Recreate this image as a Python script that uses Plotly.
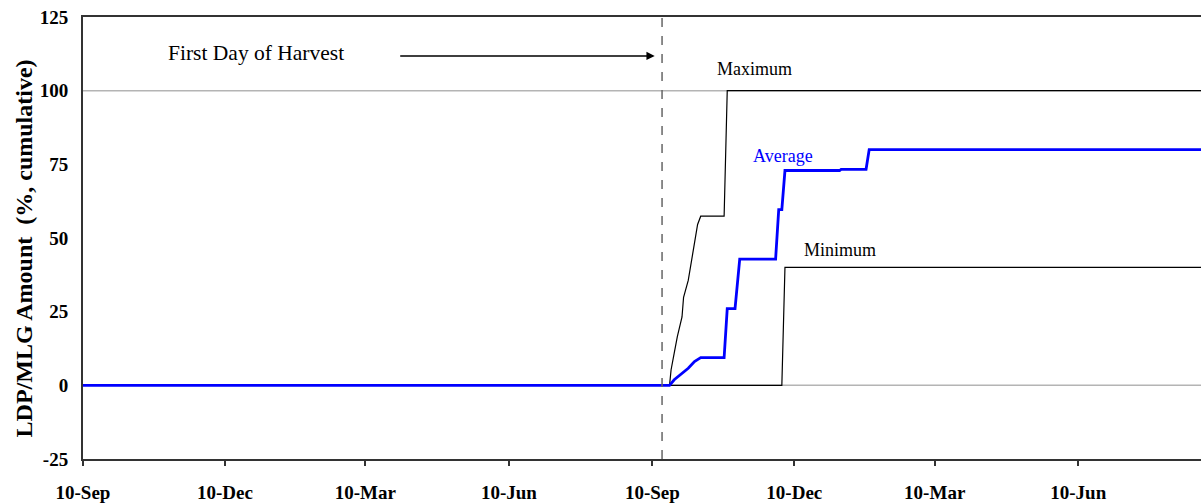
import plotly.graph_objects as go

# ---- data ----
avg_dates = ["2001-09-10", "2002-09-21", "2002-09-24", "2002-09-29", "2002-10-03", "2002-10-07",
             "2002-10-11", "2002-10-26", "2002-10-28", "2002-11-02", "2002-11-05", "2002-11-28",
             "2002-11-30", "2002-12-02", "2002-12-04", "2003-01-08", "2003-01-09", "2003-01-25",
             "2003-01-27", "2003-09-10"]
avg_vals = [0, 0, 1.9, 4.1, 5.8, 8.1, 9.4, 9.4, 26, 26, 42.8, 42.8, 59.6, 59.6, 72.9, 72.9, 73.3, 73.3, 80, 80]

max_dates = ["2002-09-21", "2002-09-22", "2002-09-24", "2002-09-26", "2002-09-29", "2002-09-30",
             "2002-10-03", "2002-10-05", "2002-10-07", "2002-10-09", "2002-10-11", "2002-10-26",
             "2002-10-28", "2003-09-10"]
max_vals = [0, 5.3, 10.9, 16.5, 23.2, 29.9, 35.6, 42.3, 49.0, 54.6, 57.4, 57.4, 100, 100]

min_dates = ["2002-09-21", "2002-12-02", "2002-12-04", "2003-09-10"]
min_vals = [0, 0, 40, 40]

tick_dates = ["2001-09-10", "2001-12-10", "2002-03-10", "2002-06-10",
              "2002-09-10", "2002-12-10", "2003-03-10", "2003-06-10"]
tick_labels = ["10-Sep", "10-Dec", "10-Mar", "10-Jun", "10-Sep", "10-Dec", "10-Mar", "10-Jun"]
y_ticks = [-25, 0, 25, 50, 75, 100, 125]
y_tick_labels = ["-25", "0", "25", "50", "75", "100", "125"]

harvest_date = "2002-09-16 05:00"

SERIF = "Liberation Serif, Times New Roman, serif"

fig = go.Figure()
fig.add_trace(go.Scatter(x=min_dates, y=min_vals, mode="lines",
                         line=dict(color="#000000", width=1.2), name="Minimum"))
fig.add_trace(go.Scatter(x=max_dates, y=max_vals, mode="lines",
                         line=dict(color="#000000", width=1.2), name="Maximum"))
fig.add_trace(go.Scatter(x=avg_dates, y=avg_vals, mode="lines",
                         line=dict(color="#0000FF", width=2.8), name="Average"))

# reference lines at 0 and 100
for yv in (0, 100):
    fig.add_shape(type="line", xref="paper", x0=0, x1=1, yref="y", y0=yv, y1=yv,
                  line=dict(color="#b4b4b4", width=1.5), layer="below")

# harvest dashed line
fig.add_shape(type="line", xref="x", x0=harvest_date, x1=harvest_date, yref="paper", y0=0, y1=1,
              line=dict(color="#666666", width=1.5, dash="dash"))

# arrow
fig.add_annotation(x="2002-09-11 12:00", y=111.8, xref="x", yref="y", ax=-256, ay=0,
                   showarrow=True, arrowhead=2, arrowsize=1.1, arrowwidth=1.5,
                   arrowcolor="#000000", text="")

fig.add_annotation(text="First Day of Harvest", xref="paper", yref="paper", x=0.155, y=0.919,
                   showarrow=False, xanchor="center", yanchor="middle",
                   font=dict(family=SERIF, size=21.5, color="#000000"))
fig.add_annotation(text="Maximum", xref="paper", yref="paper", x=0.601, y=0.883,
                   showarrow=False, xanchor="center", yanchor="middle",
                   font=dict(family=SERIF, size=18, color="#000000"))
fig.add_annotation(text="Average", xref="paper", yref="paper", x=0.626, y=0.685,
                   showarrow=False, xanchor="center", yanchor="middle",
                   font=dict(family=SERIF, size=18, color="#0000FF"))
fig.add_annotation(text="Minimum", xref="paper", yref="paper", x=0.677, y=0.472,
                   showarrow=False, xanchor="center", yanchor="middle",
                   font=dict(family=SERIF, size=18, color="#000000"))

# y-axis title
fig.add_annotation(text="<b>LDP/MLG Amount\u00a0 (%, cumulative)</b>", xref="paper", yref="paper",
                   x=(24 - 83) / 1118, y=(462 - 250) / 445, textangle=-90, showarrow=False,
                   xanchor="center", yanchor="middle",
                   font=dict(family=SERIF, size=24, color="#000000"))

fig.update_layout(
    width=1201, height=503,
    margin=dict(l=83, r=0, t=17, b=41),
    paper_bgcolor="white", plot_bgcolor="white",
    showlegend=False,
    xaxis=dict(type="date", range=["2001-09-10", "2003-08-27 17:00"],
               tickvals=tick_dates, ticktext=tick_labels,
               showgrid=False, zeroline=False,
               showline=True, linecolor="#333333", linewidth=2, mirror=True,
               ticks="outside", ticklen=5, tickwidth=1.5, tickcolor="#333333",
               ticklabelstandoff=10,
               tickfont=dict(family=SERIF, size=19, color="#000000", weight="bold")),
    yaxis=dict(range=[-25, 125], tickvals=y_ticks, ticktext=y_tick_labels,
               showgrid=False, zeroline=False,
               showline=True, linecolor="#333333", linewidth=2, mirror=False,
               ticks="", ticklabelstandoff=9,
               tickfont=dict(family=SERIF, size=19, color="#000000", weight="bold")),
)

fig.write_html("out.html", config={"displayModeBar": False},
               post_script="document.body.style.margin='0';")
